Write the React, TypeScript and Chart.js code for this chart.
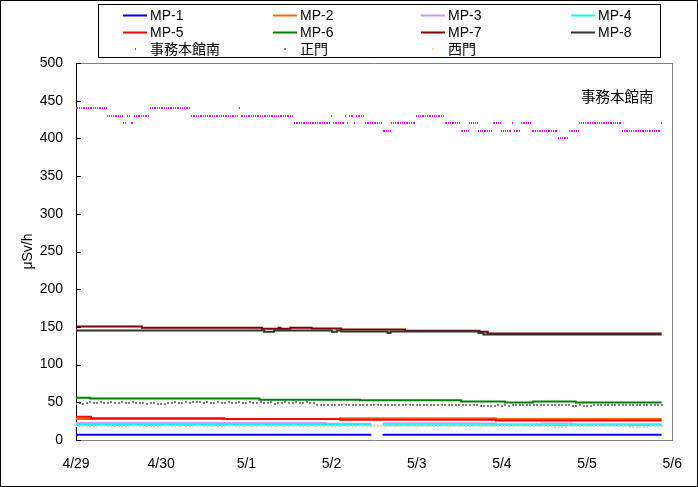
import React, { useEffect, useRef } from 'react';
import { Chart, registerables } from 'chart.js';

Chart.register(...registerables);

const FONT = '"Liberation Sans", "Noto Sans CJK JP", sans-serif';
const CJK_FONT = '"Noto Sans CJK JP", "Liberation Sans", sans-serif';

// ---------- axis labels ----------
const dayLabels = ['4/29', '4/30', '5/1', '5/2', '5/3', '5/4', '5/5', '5/6'];
const yAxisTitle = 'μSv/h';
const siteLabel = '事務本館南';

// ---------- line series (hours since 4/29 0:00 where value changes) ----------
const lineNames = ['MP-1', 'MP-2', 'MP-3', 'MP-4', 'MP-5', 'MP-6', 'MP-7', 'MP-8'];
const lineColors = ['#0000FF', '#FF6600', '#CC99FF', '#00FFFF', '#FF0000', '#008000', '#800000', '#333333'];

const mp1Hours = [0, 83.2, 83.5, 86.4, 165];
const mp1Values = [7, 7, null, 7, 7];
const mp2Hours = [0, 74.4, 118.3, 165];
const mp2Values = [28, 29, 28, 28];
const mp3Hours = [0, 70.4, 83.2, 83.5, 86.4, 118.3, 131.2, 139.6, 165];
const mp3Values = [22.5, 21.5, 21.5, null, 22, 21, 22, 21, 21];
const mp4Hours = [0, 83.2, 83.5, 86.4, 165];
const mp4Values = [20, 20, null, 19.5, 19.5];
const mp5Hours = [0, 4.2, 41.7, 74.4, 118.3, 165];
const mp5Values = [31, 29, 28, 27, 26, 26];
const mp6Hours = [0, 4, 51.7, 80, 108.5, 120.9, 128.8, 140.8, 165];
const mp6Values = [56, 55, 53.5, 52.7, 51, 49.6, 51, 49.6, 49.6];
const mp7Hours = [0, 18.6, 52.4, 57.1, 57.6, 60.4, 66.4, 74.7, 92.7, 113.7, 116, 165];
const mp7Values = [150.5, 149, 147.5, 149, 147.5, 149, 148, 146.5, 145, 143.5, 141.2, 141.2];
const mp8Hours = [0, 53, 55.8, 72.1, 73.5, 74.7, 87.8, 88.6, 113.4, 114.8, 165];
const mp8Values = [145.2, 143.5, 145.2, 143.5, 145.2, 144, 142, 144, 142, 140, 140];

const lineHours = [mp1Hours, mp2Hours, mp3Hours, mp4Hours, mp5Hours, mp6Hours, mp7Hours, mp8Hours];
const lineValues = [mp1Values, mp2Values, mp3Values, mp4Values, mp5Values, mp6Values, mp7Values, mp8Values];

// ---------- point series ----------
const pointNames = ['事務本館南', '正門', '西門'];
const pointColors = ['#FF00FF', '#808080', '#FFCC99'];

// 事務本館南: every 30 minutes
const honkanStep = 0.5;
const honkanValues = [
  // 4/29
  440, 440, 440, 440, 440, 440, 440, 440, 440, 440, 440, 440, 440, 440, 440, 440, 440, 440,
  430, 430, 430, 430, 430, 430, 430, 430, 430,
  420, 420, 430, 430, 420, 420,
  430, 430, 430, 430, 430, 430, 430, 430, 430,
  440, 440, 440, 440, 440, 440,
  // 4/30
  440, 440, 440, 440, 440, 440, 440, 440, 440, 440, 440, 440, 440, 440, 440, 440, 440,
  430, 430, 430, 430, 430, 430, 430, 430, 430, 430, 430, 430, 430, 430, 430, 430, 430, 430, 430, 430, 430, 430, 430, 430, 430, 430, 430,
  440, 430, 430, 430,
  // 5/1
  430, 430, 430, 430, 430, 430, 430, 430, 430, 430, 430, 430, 430, 430, 430, 430, 430, 430, 430, 430, 430, 430, 430, 430, 430, 430, 430,
  420, 420, 420, 420, 420, 420, 420, 420, 420, 420, 420, 420, 420, 420, 420, 420, 420, 420, 420, 420, 420,
  // 5/2
  430, 420, 420, 420, 420, 420, 420, 420, 430, 420, 430, 430, 430, 420, 430, 430, 430, 430, 430,
  420, 420, 420, 420, 420, 420, 420, 420, 420, 420,
  410, 410, 410, 410, 410,
  420, 420, 420, 420, 420, 420, 420, 420, 420, 420, 420, 420, 420, 420,
  // 5/3
  430, 430, 430, 430, 430, 430, 430, 430, 430, 430, 430, 430, 430, 430, 430, 430,
  420, 420, 420, 420, 420, 420, 420, 420, 420,
  410, 410, 410, 410, 410,
  420, 420, 420, 420, 420,
  410, 410, 410, 410, 410, 410, 410, 410,
  420, 420, 420, 420, 420,
  // 5/4
  410, 410, 410, 410, 410, 410, 420, 410, 410, 410, 410,
  420, 420, 420, 420, 420, 420,
  410, 410, 410, 410, 410, 410, 410, 410, 410, 410, 410, 410, 410, 410, 410,
  400, 400, 400, 400, 400, 400,
  410, 410, 410, 410, 410, 410,
  420, 420, 420, 420,
  // 5/5
  420, 420, 420, 420, 420, 420, 420, 420, 420, 420, 420, 420, 420, 420, 420, 420, 420, 420, 420, 420,
  410, 410, 410, 410, 410, 410, 410, 410, 410, 410, 410, 410, 410, 410, 410, 410, 410, 410, 410, 410, 410, 410,
  420,
];

// 正門: hourly
const seimonStep = 1;
const seimonValues = [
  48, 49, 48, 49, 50, 49, 49, 50, 49, 49, 50, 49, 49, 50, 49, 49, 50, 49, 49, 49, 48, 49, 49, 48,
  48, 48, 49, 49, 50, 49, 49, 50, 49, 51, 51, 50, 49, 50, 49, 49, 50, 49, 49, 50, 49, 49, 50, 49,
  49, 50, 49, 49, 50, 49, 49, 50, 48, 49, 49, 50, 49, 49, 50, 49, 49, 50, 49, 49, 47, 46, 47, 46,
  47, 47, 46, 47, 47, 47, 46, 47, 47, 47, 47, 46, 47, 47, 47, 47, 46, 47, 47, 47, 46, 47, 47, 47,
  47, 47, 46, 47, 47, 46, 47, 47, 46, 47, 47, 46, 47, 47, 47, 47, 47, 46, 45, 45, 45, 45, 45, 46,
  45, 46, 45, 46, 47, 47, 46, 47, 47, 46, 47, 47, 47, 46, 47, 47, 46, 47, 47, 47, 45, 45, 46, 45,
  45, 45, 47, 47, 46, 47, 47, 47, 46, 47, 47, 47, 46, 47, 47, 46, 47, 47, 47, 46, 47, 47,
];

// 西門: hourly
const nishimonStep = 1;
const nishimonValues = [
  19, 19, 18, 19, 19, 18, 19, 19, 19, 18, 19, 19, 18, 19, 19, 19, 18, 19, 19, 18, 19, 19, 18, 19,
  19, 18, 19, 19, 18, 19, 19, 18, 19, 19, 19, 18, 19, 19, 18, 19, 19, 18, 19, 19, 18, 19, 19, 19,
  18, 19, 19, 18, 19, 18, 19, 19, 18, 19, 18, 19, 19, 18, 19, 18, 19, 19, 18, 19, 18, 19, 19, 18,
  19, 18, 18, 19, 18, 19, 18, 18, 19, 18, 19, 19, 19, 19, 18, 19, 18, 18, 19, 18, 19, 18, 18, 19,
  18, 19, 18, 18, 19, 18, 18, 19, 18, 18, 19, 18, 18, 19, 18, 18, 19, 18, 18, 19, 18, 18, 19, 18,
  18, 18, 19, 18, 18, 19, 18, 18, 19, 18, 18, 19, 18, 18, 19, 17, 17, 17, 17, 18, 18, 19, 18, 18,
  18, 19, 18, 18, 19, 18, 18, 19, 18, 18, 19, 18, 17, 17, 17, 17, 17, 17, 18, 18, 19, 18,
];

const pointValues = [honkanValues, seimonValues, nishimonValues];
const pointSteps = [honkanStep, seimonStep, nishimonStep];
const pointSizes = [[1, 2], [2, 2], [2, 2]];

export default function App() {
  const ref = useRef<HTMLCanvasElement>(null);

  useEffect(() => {
    const canvas = ref.current;
    if (!canvas) return;

    const makeDot = (color: string, w: number, h: number) => {
      const c = document.createElement('canvas');
      c.width = w;
      c.height = h;
      const g = c.getContext('2d')!;
      g.fillStyle = color;
      g.fillRect(0, 0, w, h);
      return c;
    };
    const dotImages = pointColors.map((c, i) => makeDot(c, pointSizes[i][0], pointSizes[i][1]));

    const datasets: any[] = [];
    lineNames.forEach((name, i) => {
      datasets.push({
        type: 'line',
        label: name,
        data: lineHours[i].map((h, k) => ({ x: h, y: lineValues[i][k] })),
        borderColor: lineColors[i],
        backgroundColor: lineColors[i],
        borderWidth: 2,
        pointRadius: 0,
        stepped: true,
        spanGaps: false,
        fill: false,
        order: 30 - i,
      });
    });
    pointNames.forEach((name, i) => {
      datasets.push({
        type: 'line',
        label: name,
        data: pointValues[i].map((v, k) => ({ x: k * pointSteps[i], y: v })),
        showLine: false,
        pointStyle: dotImages[i],
        pointRadius: 1,
        pointHoverRadius: 1,
        borderColor: pointColors[i],
        backgroundColor: pointColors[i],
        order: 30 - (8 + i),
      });
    });

    const decor = {
      id: 'decor',
      beforeDraw(chart: any) {
        const ctx = chart.ctx;
        ctx.save();
        ctx.fillStyle = '#FFFFFF';
        ctx.fillRect(0, 0, chart.width, chart.height);
        ctx.restore();
      },
      beforeDatasetsDraw(chart: any) {
        chart.ctx.imageSmoothingEnabled = false;
      },
      afterDraw(chart: any) {
        const ctx = chart.ctx;
        const { left, right, top, bottom } = chart.chartArea;
        ctx.save();
        // plot frame (top and right)
        ctx.strokeStyle = '#808080';
        ctx.lineWidth = 1;
        ctx.beginPath();
        ctx.moveTo(Math.round(left), Math.round(top) + 0.5);
        ctx.lineTo(Math.round(right) + 1, Math.round(top) + 0.5);
        ctx.moveTo(Math.round(right) + 0.5, Math.round(top));
        ctx.lineTo(Math.round(right) + 0.5, Math.round(bottom) + 1);
        ctx.stroke();
        // inside tick marks on y axis
        const ys = chart.scales.y;
        ctx.strokeStyle = '#000000';
        ctx.beginPath();
        ys.ticks.forEach((t: any) => {
          const py = Math.round(ys.getPixelForValue(t.value)) + 0.5;
          ctx.moveTo(Math.round(left), py);
          ctx.lineTo(Math.round(left) + 5, py);
        });
        ctx.stroke();
        // outer frame
        ctx.strokeStyle = '#000000';
        ctx.strokeRect(0.5, 0.5, chart.width - 1, chart.height - 1);
        // legend box
        ctx.strokeRect(98.5, 4.5, 562, 53);
        const colX = [123, 273, 421, 571];
        const rowY = [15, 32, 49];
        ctx.font = '14px ' + FONT;
        ctx.textBaseline = 'middle';
        ctx.textAlign = 'left';
        chart.data.datasets.forEach((ds: any, i: number) => {
          const cx = colX[i % 4];
          const cy = rowY[Math.floor(i / 4)];
          if (i < 8) {
            ctx.strokeStyle = ds.borderColor;
            ctx.lineWidth = 2;
            ctx.beginPath();
            ctx.moveTo(cx, cy + 0.5);
            ctx.lineTo(cx + 24, cy + 0.5);
            ctx.stroke();
          } else {
            const img = ds.pointStyle;
            ctx.drawImage(img, Math.round(cx + 12 - img.width / 2), Math.round(cy - img.height / 2));
          }
          ctx.fillStyle = '#000000';
          ctx.fillText(ds.label, cx + 27, cy + 1);
        });
        // site label inside plot
        ctx.font = '14.5px ' + CJK_FONT;
        ctx.fillStyle = '#000000';
        ctx.fillText(siteLabel, 581, 96);
        ctx.restore();
      },
    };

    const chart = new Chart(canvas, {
      type: 'line',
      data: { datasets },
      options: {
        animation: false,
        responsive: false,
        devicePixelRatio: 1,
        events: [],
        layout: { padding: { top: 63, right: 23, bottom: 0, left: 0 } },
        plugins: { legend: { display: false }, tooltip: { enabled: false }, title: { display: false } },
        scales: {
          x: {
            type: 'linear',
            min: 0,
            max: 168,
            offset: false,
            grid: { display: false, drawTicks: false },
            border: { display: true, color: '#808080', width: 1 },
            ticks: {
              stepSize: 24,
              autoSkip: false,
              maxRotation: 0,
              padding: 16,
              color: '#000000',
              font: { family: FONT, size: 14 },
              callback: (v: any) => dayLabels[Math.round(Number(v) / 24)] ?? '',
            },
            afterFit: (s: any) => {
              s.height = 47;
            },
          },
          y: {
            type: 'linear',
            min: 0,
            max: 500,
            grid: { display: false, drawTicks: false },
            border: { display: true, color: '#000000', width: 1 },
            ticks: {
              stepSize: 50,
              padding: 13,
              color: '#000000',
              font: { family: FONT, size: 14 },
            },
            title: {
              display: true,
              text: yAxisTitle,
              color: '#000000',
              font: { family: FONT, size: 14 },
              padding: { top: 20, bottom: 0 },
            },
            afterFit: (s: any) => {
              s.width = 76;
            },
          },
        },
      } as any,
      plugins: [decor],
    });

    return () => chart.destroy();
  }, []);

  return (
    <div style={{ position: 'fixed', left: 0, top: 0, width: 698, height: 487, background: '#fff' }}>
      <canvas ref={ref} width={698} height={487} style={{ display: 'block' }} />
    </div>
  );
}
